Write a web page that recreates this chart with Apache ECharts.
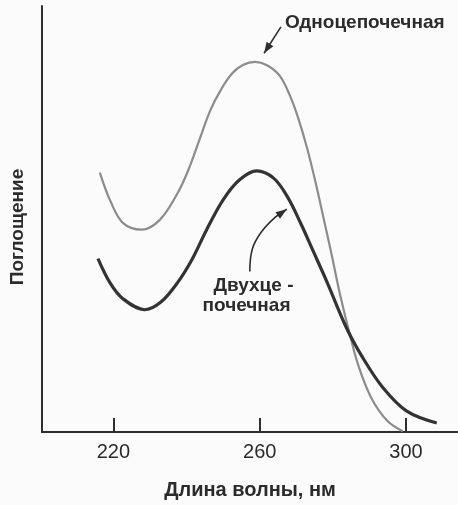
<!DOCTYPE html>
<html><head><meta charset="utf-8">
<script src="https://cdn.jsdelivr.net/npm/echarts@6/dist/echarts.min.js"></script>
<style>html,body{margin:0;padding:0;background:#fbfbfb}#c{width:458px;height:505px}</style>
</head><body><div id="c"></div>
<script>
// Wavelength (nm) and absorbance (arbitrary units, 0-100)
const singleStrandNm  = [216.3, 219.1, 222.6, 227.8, 232.7, 237.4, 240.5, 243.5, 246.5, 249.5, 252.5, 255.5, 258.7, 262.0, 265.5, 268.3, 270.6, 273.0, 275.3, 277.5, 279.7, 281.9, 284.3, 287.0, 290.5, 295.0, 299.1];
const singleStrandAbs = [60.9, 54.4, 49.1, 47.5, 49.8, 55.8, 61.5, 68.5, 75.5, 80.5, 84.2, 86.2, 86.9, 86.1, 83.6, 78.9, 73.5, 66.5, 58.5, 50.0, 41.5, 32.5, 24.0, 15.5, 8.0, 2.5, 0.2];
const doubleStrandNm  = [215.8, 219.1, 222.6, 228.6, 233.0, 237.5, 241.5, 245.5, 250.0, 254.5, 259.2, 263.8, 267.6, 271.2, 274.6, 278.4, 283.8, 288.2, 293.7, 300.2, 308.4];
const doubleStrandAbs = [40.7, 35.0, 31.3, 28.7, 30.5, 35.0, 40.5, 47.5, 54.5, 59.2, 61.3, 59.6, 55.2, 49.0, 42.5, 35.2, 24.3, 17.4, 10.4, 4.9, 2.1];
const xTickValues = [220, 260, 300];
const xTitle = 'Длина волны, нм';
const yTitle = 'Поглощение';
const singleLabel = 'Одноцепочечная';
const doubleLabelLines = ['Двухце -', 'почечная'];

// annotation anchors in data coordinates
const singleLabelPos = [266.9, 96.0];
const singleArrow = [[265.8, 95.1], [261.2, 88.9]];
const doubleLabelPos = [[258.3, 34.3], [256.4, 29.7]];
const doubleArrow = [[257.3, 37.7], [258.0, 43.0], [260.4, 46.9], [264.2, 50.4], [267.4, 52.3]];

const FONT = '"Liberation Sans", Arial, Helvetica, sans-serif';
const TXT = '#2b2b2b';

const chart = echarts.init(document.getElementById('c'), null, {renderer: 'canvas'});
const zip = (a, b) => a.map((v, i) => [v, b[i]]);

chart.setOption({
  backgroundColor: '#fbfbfb',
  animation: false,
  grid: {left: 42, right: 0, top: 6, bottom: 67, containLabel: false},
  xAxis: {
    type: 'value', min: 200.5, max: 314.2,
    axisLine: {show: true, lineStyle: {color: '#2f2f2f', width: 2}},
    axisTick: {show: true, inside: true, length: 14, lineStyle: {color: '#2f2f2f', width: 2}, customValues: xTickValues},
    axisLabel: {show: true, customValues: xTickValues, color: TXT, fontSize: 20, fontFamily: FONT, margin: 10},
    splitLine: {show: false},
    name: xTitle, nameLocation: 'middle', nameGap: 48,
    nameTextStyle: {color: TXT, fontSize: 20, fontWeight: 'bold', fontFamily: FONT}
  },
  yAxis: {
    type: 'value', min: 0, max: 100,
    axisLine: {show: true, lineStyle: {color: '#2f2f2f', width: 2}},
    axisTick: {show: false}, axisLabel: {show: false}, splitLine: {show: false},
    name: yTitle, nameLocation: 'middle', nameGap: 15,
    nameTextStyle: {color: TXT, fontSize: 19, fontWeight: 'bold', fontFamily: FONT, padding: [0, 16, 0, 0]}
  },
  series: [
    {name: singleLabel, type: 'line', smooth: 0.35, showSymbol: false, symbol: 'none',
     data: zip(singleStrandNm, singleStrandAbs), lineStyle: {color: '#8c8c8c', width: 2.2}},
    {name: 'Двухцепочечная', type: 'line', smooth: 0.35, showSymbol: false, symbol: 'none',
     data: zip(doubleStrandNm, doubleStrandAbs), lineStyle: {color: '#333333', width: 3.2}}
  ]
});

function px(p) { return chart.convertToPixel({gridIndex: 0}, p); }
function arrowHead(pts, color) {
  const a = pts[pts.length - 2], b = pts[pts.length - 1];
  const dx = b[0] - a[0], dy = b[1] - a[1], L = Math.hypot(dx, dy);
  const ux = dx / L, uy = dy / L, len = 11, w = 4;
  const bx = b[0] - ux * len, by = b[1] - uy * len;
  return {type: 'polygon', shape: {points: [b, [bx - uy * w, by + ux * w], [bx + uy * w, by - ux * w]]}, style: {fill: color}};
}
const sA = singleArrow.map(px);
const dA = doubleArrow.map(px);
const sT = px(singleLabelPos);
const dT = doubleLabelPos.map(px);
chart.setOption({
  graphic: [
    {type: 'text', x: sT[0], y: sT[1], style: {text: singleLabel, fill: TXT, font: 'bold 19px ' + FONT, textAlign: 'left', textVerticalAlign: 'middle'}},
    {type: 'polyline', shape: {points: sA}, style: {stroke: '#2f2f2f', lineWidth: 1.6, fill: null}},
    arrowHead(sA, '#2f2f2f'),
    {type: 'text', x: dT[0][0], y: dT[0][1], style: {text: doubleLabelLines[0], fill: TXT, font: 'bold 19px ' + FONT, textAlign: 'center', textVerticalAlign: 'middle'}},
    {type: 'text', x: dT[1][0], y: dT[1][1], style: {text: doubleLabelLines[1], fill: TXT, font: 'bold 19px ' + FONT, textAlign: 'center', textVerticalAlign: 'middle'}},
    {type: 'polyline', shape: {points: dA, smooth: 0.4}, style: {stroke: '#2f2f2f', lineWidth: 1.6, fill: null}},
    arrowHead(dA, '#2f2f2f')
  ]
});
</script>
</body></html>
